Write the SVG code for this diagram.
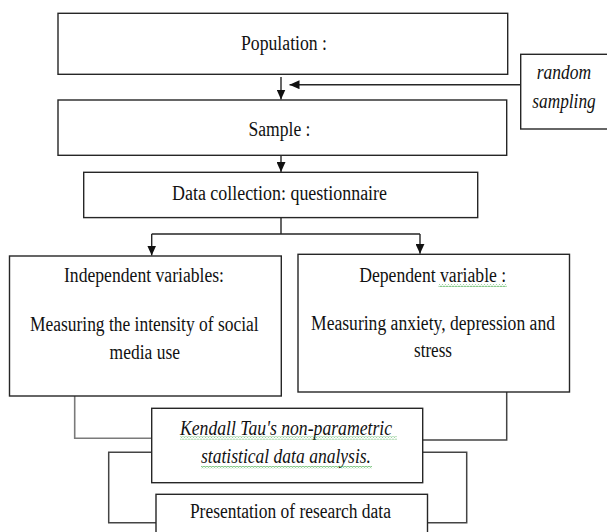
<svg xmlns="http://www.w3.org/2000/svg" width="607" height="532" viewBox="0 0 607 532">
<style>
.box{fill:#fff;stroke:#262626;stroke-width:1.4}
.t{font-family:"Liberation Serif","Times New Roman",serif;font-size:20px;fill:#111;text-anchor:middle}
.i{font-style:italic}
.c{fill:none;stroke:#262626;stroke-width:1.4}
.g{fill:none;stroke:#7a7a7a;stroke-width:1.6}
.b{fill:none;stroke:#444;stroke-width:1.5}
</style>
<defs>
<marker id="ah" markerUnits="userSpaceOnUse" markerWidth="10" markerHeight="9" viewBox="0 0 10 9" refX="10" refY="4.5" orient="auto">
<path d="M0 0 L10 4.5 L0 9 Z" fill="#111"/>
</marker>
<pattern id="wavy" patternUnits="userSpaceOnUse" width="3" height="3">
<path d="M0 0.6 L1.5 2.4 L3 0.6" fill="none" stroke="#4caf50" stroke-width="0.9"/>
</pattern>
</defs>

<g id="connectors">
<path class="c" d="M281 77 V99.5" marker-end="url(#ah)"/>
<path class="c" d="M520.7 84.7 H289.5" marker-end="url(#ah)"/>
<path class="c" d="M281 155.3 V172" marker-end="url(#ah)"/>
<path class="c" d="M281 217.6 V234 M151.7 234 H420"/>
<path class="c" d="M151.7 234 V255.5" marker-end="url(#ah)"/>
<path class="c" d="M420 234 V253.8" marker-end="url(#ah)"/>
<path class="g" d="M74.7 396 V438.3 H151.7"/>
<path class="b" d="M506.7 392 V440 H422.7"/>
<path class="b" d="M151.7 452.3 H108.7 V522.7 H156"/>
<path class="b" d="M422.7 452.3 H466.7 V522.7 H427.5"/>
</g>

<g id="population">
<rect class="box" x="58" y="13.3" width="449.7" height="61"/>
<text class="t" x="284" y="50" textLength="86" lengthAdjust="spacingAndGlyphs">Population :</text>
</g>

<g id="random-sampling">
<rect class="box" x="520.7" y="54.3" width="100" height="74.7"/>
<text class="t i" x="564" y="79.3" textLength="54.4" lengthAdjust="spacingAndGlyphs">random</text>
<text class="t i" x="564" y="108.3" textLength="63.3" lengthAdjust="spacingAndGlyphs">sampling</text>
</g>

<g id="sample">
<rect class="box" x="58" y="100" width="448.7" height="55.3"/>
<text class="t" x="279.5" y="136" textLength="62" lengthAdjust="spacingAndGlyphs">Sample :</text>
</g>

<g id="data-collection">
<rect class="box" x="83.7" y="172.3" width="394" height="45.3"/>
<text class="t" x="279.5" y="200" textLength="215" lengthAdjust="spacingAndGlyphs">Data collection: questionnaire</text>
</g>

<g id="independent">
<rect class="box" x="9.5" y="256" width="271.8" height="140"/>
<text class="t" x="144" y="282" textLength="160" lengthAdjust="spacingAndGlyphs">Independent variables:</text>
<text class="t" x="144.3" y="331" textLength="228.6" lengthAdjust="spacingAndGlyphs">Measuring the intensity of social</text>
<text class="t" x="144.8" y="359" textLength="70.4" lengthAdjust="spacingAndGlyphs">media use</text>
</g>

<g id="dependent">
<rect class="box" x="298" y="254.3" width="271.5" height="137.7"/>
<text class="t" x="432.7" y="282" textLength="147" lengthAdjust="spacingAndGlyphs">Dependent variable :</text>
<rect x="438.6" y="284" width="68" height="3" fill="url(#wavy)"/>
<text class="t" x="433" y="329.5" textLength="244" lengthAdjust="spacingAndGlyphs">Measuring anxiety, depression and</text>
<text class="t" x="433" y="357" textLength="38" lengthAdjust="spacingAndGlyphs">stress</text>
</g>

<g id="kendall">
<rect class="box" x="151.7" y="408.3" width="271" height="74.4"/>
<text class="t i" x="286" y="435" textLength="212" lengthAdjust="spacingAndGlyphs">Kendall Tau's non-parametric</text>
<rect x="180" y="436.5" width="217" height="3" fill="url(#wavy)"/>
<text class="t i" x="286" y="463.3" textLength="170" lengthAdjust="spacingAndGlyphs">statistical data analysis.</text>
<rect x="201" y="466" width="171" height="3" fill="url(#wavy)"/>
</g>

<g id="presentation">
<rect class="box" x="156" y="494.3" width="271.5" height="60"/>
<text class="t" x="290.4" y="518.3" textLength="201" lengthAdjust="spacingAndGlyphs">Presentation of research data</text>
</g>
</svg>
